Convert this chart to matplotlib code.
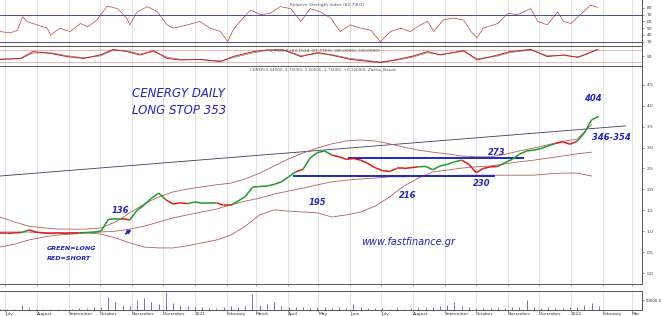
import numpy as np
import pandas as pd
import matplotlib
matplotlib.use('Agg')
import matplotlib.pyplot as plt

# ---- data ----
# weekly closes (fridays) starting 2020-06-26
close_start = '2020-06-26'
close = [0.95, 0.95, 0.96, 0.97, 1.03, 0.98, 0.96, 0.95, 0.96, 0.95,
         0.96, 0.96, 0.97, 0.98, 1.00, 1.28, 1.30, 1.30, 1.27, 1.50,
         1.63, 1.79, 1.91, 1.75, 1.65, 1.68, 1.66, 1.70, 1.67, 1.68,
         1.68, 1.62, 1.62, 1.72, 1.83, 2.05, 2.07, 2.08, 2.12, 2.18,
         2.30, 2.42, 2.48, 2.75, 2.88, 2.92, 2.82, 2.78, 2.72, 2.74,
         2.70, 2.62, 2.52, 2.45, 2.43, 2.50, 2.50, 2.52, 2.54, 2.55,
         2.47, 2.56, 2.60, 2.66, 2.70, 2.60, 2.40, 2.50, 2.54, 2.55,
         2.64, 2.72, 2.84, 2.92, 2.94, 2.98, 3.04, 3.10, 3.14, 3.08,
         3.15, 3.35, 3.66, 3.75]
# L = long (green), S = short (red)
signal = ("SSSS" "L" "SSSSSSS" "LLLLLL" "S" "LLLLL" "SSS" "LLLL" "SS"
          "LLLLLLLLL" "S" "LLLL" "SSSSSSSSSSSS" "LLLLLL" "SSSSS"
          "LLLLLLLL" "SSS" "LLL")
# weekly volume
volume = [5000, 5000, 7500, 25000, 10000, 5000, 7500, 5000, 5000, 5000,
          7500, 10000, 10000, 15000, 15000, 65000, 40000, 25000, 20000, 50000,
          60000, 40000, 30000, 90000, 35000, 25000, 20000, 15000, 15000, 10000,
          10000, 15000, 20000, 15000, 20000, 80000, 25000, 30000, 40000, 20000,
          15000, 15000, 15000, 10000, 15000, 15000, 10000, 15000, 10000, 30000,
          15000, 10000, 10000, 10000, 7500, 10000, 7500, 10000, 10000, 10000,
          15000, 20000, 25000, 40000, 20000, 15000, 10000, 10000, 10000, 10000,
          10000, 15000, 15000, 50000, 15000, 10000, 15000, 10000, 10000, 15000,
          15000, 25000, 35000, 20000]

# Zaeiss bands, every two weeks from 2020-06-26
band_up = [1.34, 1.22, 1.12, 1.08, 1.05, 1.05, 1.05, 1.08, 1.22, 1.44,
           1.65, 1.82, 1.94, 2.01, 2.06, 2.11, 2.15, 2.25, 2.39, 2.56,
           2.73, 2.87, 2.99, 3.09, 3.16, 3.18, 3.16, 3.09, 3.01, 2.94,
           2.89, 2.85, 2.80, 2.78, 2.78, 2.84, 2.92, 2.99, 3.07, 3.15,
           3.20, 3.55]
band_mid = [0.98, 0.98, 0.98, 0.96, 0.96, 0.96, 0.96, 0.98, 1.00, 1.05,
            1.12, 1.22, 1.32, 1.39, 1.46, 1.53, 1.63, 1.72, 1.79, 1.89,
            1.96, 2.03, 2.11, 2.18, 2.22, 2.25, 2.27, 2.30, 2.30, 2.32,
            2.32, 2.32, 2.34, 2.34, 2.34, 2.34, 2.34, 2.34, 2.37, 2.39,
            2.39, 2.32]
band_low = [0.62, 0.69, 0.79, 0.86, 0.91, 0.93, 0.96, 0.93, 0.84, 0.72,
            0.62, 0.60, 0.60, 0.65, 0.72, 0.79, 0.91, 1.12, 1.39, 1.51,
            1.48, 1.46, 1.44, 1.34, 1.39, 1.46, 1.60, 1.82, 2.08, 2.27,
            2.42, 2.46, 2.51, 2.54, 2.56, 2.61, 2.66, 2.70, 2.75, 2.80,
            2.85, 2.89]

# RSI, days counted from 2020-07-01
rsi_day = [-5, 5, 12, 17, 21, 31, 41, 44, 53, 63, 73, 80, 89, 99, 109, 118,
           121, 128, 138, 148, 157, 163, 177, 189, 199, 209, 216, 221, 228,
           238, 248, 257, 267, 277, 287, 296, 306, 316, 325, 335, 345, 355,
           364, 374, 384, 393, 403, 410, 416, 425, 435, 445, 452, 458, 464,
           478, 488, 497, 510, 517, 526, 536, 542, 549, 556, 561, 568, 575]
rsi = [45, 43, 47, 67, 60, 55, 50, 40, 50, 45, 57, 52, 62, 83, 79, 65,
       55, 74, 82, 74, 55, 50, 55, 60, 50, 45, 30, 47, 60,
       77, 70, 72, 82, 79, 60, 79, 74, 65, 45, 55, 50, 47,
       30, 45, 50, 45, 55, 60, 45, 62, 65, 62, 45, 36, 50,
       57, 72, 70, 79, 60, 55, 74, 60, 57, 67, 74, 84, 81]

# stochastic %K / %D
sto_day = [-5, 15, 27, 44, 60, 76, 92, 105, 118, 131, 144, 157, 170, 189,
           209, 221, 241, 254, 270, 287, 303, 316, 335, 364, 381, 396, 410,
           422, 445, 458, 478, 490, 510, 526, 542, 556, 575]
sto_k = [33, 38, 72, 63, 47, 38, 55, 83, 72, 55, 77, 38, 30, 33, 22, 47,
         72, 80, 80, 47, 67, 55, 33, 17, 33, 50, 72, 55, 77, 30, 55, 72,
         83, 47, 55, 43, 83]
sto_d = [35, 36, 65, 66, 52, 41, 50, 78, 76, 60, 72, 45, 33, 32, 25, 42,
         66, 78, 81, 52, 62, 58, 38, 20, 30, 45, 67, 58, 73, 36, 50, 67,
         80, 52, 52, 46, 80]

# drawn lines
trend_dates = ['2020-06-26', '2022-02-23']
trend_vals = [2.32, 3.52]
res_dates = ['2021-05-31', '2021-11-16']
res_val = 2.75
sup_dates = ['2021-04-07', '2021-10-18']
sup_val = 2.32

month_labels = ['July', 'August', 'September', 'October', 'November', 'December',
                '2021', 'February', 'March', 'April', 'May', 'June', 'July',
                'August', 'September', 'October', 'November', 'December',
                '2022', 'February', 'Mar']

# ---- build x values ----
t0 = pd.Timestamp('2020-07-01')
dates_w = pd.date_range(close_start, periods=len(close), freq='7D')
dates_b = pd.date_range(close_start, periods=len(band_up), freq='14D')
dates_rsi = t0 + pd.to_timedelta(rsi_day, unit='D')
dates_sto = t0 + pd.to_timedelta(sto_day, unit='D')
month_ticks = pd.date_range('2020-07-01', periods=len(month_labels), freq='MS')
xlim = (pd.Timestamp('2020-06-26'), pd.Timestamp('2022-03-11'))

W, H = 661, 316
fig = plt.figure(figsize=(W / 100, H / 100), dpi=100)
fig.patch.set_facecolor('white')

right = 642 / W


def panel(y_top, y_bot):
    return fig.add_axes([0, 1 - y_bot / H, right, (y_bot - y_top) / H])


ax_rsi = panel(0, 46)
ax_sto = panel(46, 66)
ax_px = panel(66, 284)
ax_vol = panel(291, 310)

for ax in (ax_rsi, ax_sto, ax_px, ax_vol):
    ax.set_xlim(*xlim)
    ax.set_xticks(month_ticks)
    ax.grid(axis='x', color='#d6d6d6', linewidth=0.5)
    ax.set_axisbelow(True)
    ax.yaxis.tick_right()
    ax.tick_params(axis='y', labelsize=3.2, colors='#333333', length=1.5,
                   width=0.4, pad=2)
    ax.tick_params(axis='x', length=1.2, width=0.4, colors='#555555')
    for s in ('top', 'bottom', 'right'):
        ax.spines[s].set_color('#555555')
        ax.spines[s].set_linewidth(0.7)
    ax.spines['left'].set_visible(False)
    ax.set_xticklabels([])

# RSI
ax_rsi.set_ylim(23.6, 91.8)
ax_rsi.plot(dates_rsi, rsi, color='#b04848', linewidth=0.5)
ax_rsi.axhline(70, color='#4a4a9a', linewidth=0.7)
ax_rsi.axhline(30, color='#4a4a9a', linewidth=0.7)
ax_rsi.set_yticks([30, 40, 50, 60, 70, 80])
ax_rsi.spines['top'].set_visible(False)
ax_rsi.text(0.452, 0.90, 'Relative Strength Index (82.7901)', transform=ax_rsi.transAxes,
            fontsize=3.2, color='#555555', va='center')

# stochastic
ax_sto.set_ylim(0, 100)
ax_sto.axhline(80, color='#e3a8a8', linewidth=0.6)
ax_sto.axhline(20, color='#e3a8a8', linewidth=0.6)
ax_sto.plot(dates_sto, sto_d, color='#777777', linewidth=0.5)
ax_sto.plot(dates_sto, sto_k, color='#cc2020', linewidth=0.7)
ax_sto.set_yticks([50])
ax_sto.text(0.42, 0.80, '2_Perc.K (83.1524, 87.3769), (80.0000), (20.0000)',
            transform=ax_sto.transAxes, fontsize=3.2, color='#555555', va='center')

# price
ax_px.set_ylim(-0.263, 4.952)
ax_px.set_yticks(np.arange(0, 4.6, 0.5))
ax_px.set_yticks(np.arange(-0.2, 4.9, 0.1), minor=True)
ax_px.tick_params(axis='y', which='minor', length=0.8, width=0.3, colors='#555555')
ax_px.yaxis.set_major_formatter(plt.FuncFormatter(lambda v, p: f'{v:.1f}'))

ax_px.plot(pd.to_datetime(trend_dates), trend_vals, color='#3c3c5c', linewidth=0.6)
ax_px.plot(dates_b, band_up, color='#b06060', linewidth=0.6)
ax_px.plot(dates_b, band_mid, color='#b06060', linewidth=0.6)
ax_px.plot(dates_b, band_low, color='#b06060', linewidth=0.6)
ax_px.plot(pd.to_datetime(res_dates), [res_val, res_val], color='#1a28d0', linewidth=1.4)
ax_px.plot(pd.to_datetime(sup_dates), [sup_val, sup_val], color='#1a28d0', linewidth=1.4)

for i in range(1, len(close)):
    c = '#1f9a2a' if signal[i] == 'L' else '#dd1a1a'
    ax_px.plot(dates_w[i - 1:i + 1], close[i - 1:i + 1], color=c, linewidth=1.1,
               solid_capstyle='butt')

ax_px.text(0.389, 0.986, 'CENER(3.54000, 3.75000, 3.50000, 3.75000, +0.12000), Zaeiss_Bands',
           transform=ax_px.transAxes, fontsize=3.0, color='#555555', va='center')

blue = '#2424b4'
hand = dict(color=blue, fontsize=8.5, fontstyle='italic', family='DejaVu Sans',
            transform=ax_px.transAxes, va='center', ha='left')
ax_px.text(0.2056, 0.872, 'CENERGY DAILY', **hand)
ax_px.text(0.2056, 0.798, 'LONG STOP 353', **hand)
ax_px.text(0.562, 0.193, 'www.fastfinance.gr', color=blue, fontsize=7,
           fontstyle='italic', transform=ax_px.transAxes, va='center', ha='left')

num = dict(color=blue, fontsize=6, fontstyle='italic', fontweight='bold',
           transform=ax_px.transAxes, va='center', ha='center')
for txt, xf, yf in [('136', 0.187, 0.339), ('195', 0.495, 0.372), ('216', 0.6355, 0.408),
                    ('230', 0.751, 0.459), ('273', 0.774, 0.605), ('404', 0.924, 0.853),
                    ('346-354', 0.952, 0.670)]:
    ax_px.text(xf, yf, txt, **num)

leg = dict(color=blue, fontsize=4.6, fontstyle='italic', fontweight='bold',
           transform=ax_px.transAxes, va='center', ha='left')
ax_px.text(0.073, 0.165, 'GREEN=LONG', **leg)
ax_px.text(0.073, 0.119, 'RED=SHORT', **leg)
ax_px.annotate('', xy=(0.208, 0.258), xytext=(0.192, 0.222), xycoords='axes fraction',
               arrowprops=dict(arrowstyle='-|>', color=blue, lw=1.2, mutation_scale=5))

# volume
ax_vol.set_ylim(0, 95000)
ax_vol.vlines(dates_w, 0, volume, color='#5a5aa8', linewidth=0.6)
ax_vol.set_yticks([50000])
ax_vol.set_yticklabels(['50000.0'])
ax_vol.tick_params(axis='y', labelsize=2.8, pad=1)
ax_vol.set_xticklabels(month_labels, fontsize=3.2, ha='left', color='#333333')
ax_vol.tick_params(axis='x', pad=0.5)

fig.savefig('out.png', dpi=100, facecolor='white')
